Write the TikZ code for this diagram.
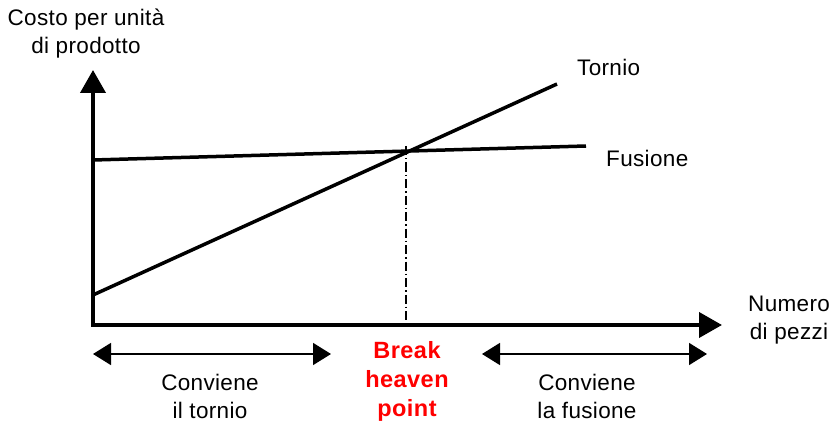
\documentclass[tikz,border=0pt]{standalone}
\usepackage{fontspec}
\setmainfont{Liberation Sans}
\usetikzlibrary{arrows.meta}
\begin{document}
\begin{tikzpicture}[x=1pt,y=-1pt,
  axis/.style={line width=4pt,-{Triangle[length=23pt,width=25pt]}},
  curve/.style={line width=3.5pt},
  span/.style={line width=1.5pt,{Triangle[length=18pt,width=22pt]}-{Triangle[length=18pt,width=22pt]}},
  lbl/.style={inner sep=0pt,align=center,font=\fontsize{22.5}{28}\selectfont\addfontfeature{LetterSpace=1.5}},
  redlbl/.style={lbl,text=red,font=\fontsize{23.5}{29}\selectfont\bfseries\addfontfeature{LetterSpace=2}}]
\useasboundingbox (0,0) rectangle (838,425);
% axes
\coordinate (O) at (93,325);
\coordinate (ytop) at (93,70);
\coordinate (xend) at (722,325);
\draw[axis] (O) -- (ytop);
\draw[axis] ([xshift=-2pt]O) -- (xend);
% cost lines
\coordinate (t0) at (93,295);
\coordinate (t1) at (557,84);
\coordinate (f0) at (93,160);
\coordinate (f1) at (586,146);
\draw[curve] (t0) -- (t1);
\draw[curve] (f0) -- (f1);
% break-even marker
\coordinate (be) at (406,146);
\coordinate (bebot) at (406,321);
\draw[line width=1.2pt,dash pattern=on 9pt off 3pt on 1.5pt off 3pt] (be) -- (bebot);
% ranges
\coordinate (l0) at (93,354);
\coordinate (l1) at (331,354);
\coordinate (r0) at (482,354);
\coordinate (r1) at (707,354);
\draw[span] (l0) -- (l1);
\draw[span] (r0) -- (r1);
% labels
\node[lbl] (ylab) at (86,34) {Costo per unità\\di prodotto};
\node[lbl,anchor=west] (xlab) at (748,320) {Numero\\di pezzi};
\node[lbl,anchor=west] (tl) at (577,67) {Tornio};
\node[lbl,anchor=west] (fl) at (606,158) {Fusione};
\node[lbl] (cl) at (210,396) {Conviene\\il tornio};
\node[lbl] (cr) at (587,396) {Conviene\\la fusione};
\node[redlbl] (bel) at (407,381) {Break\\heaven\\point};
\end{tikzpicture}
\end{document}
